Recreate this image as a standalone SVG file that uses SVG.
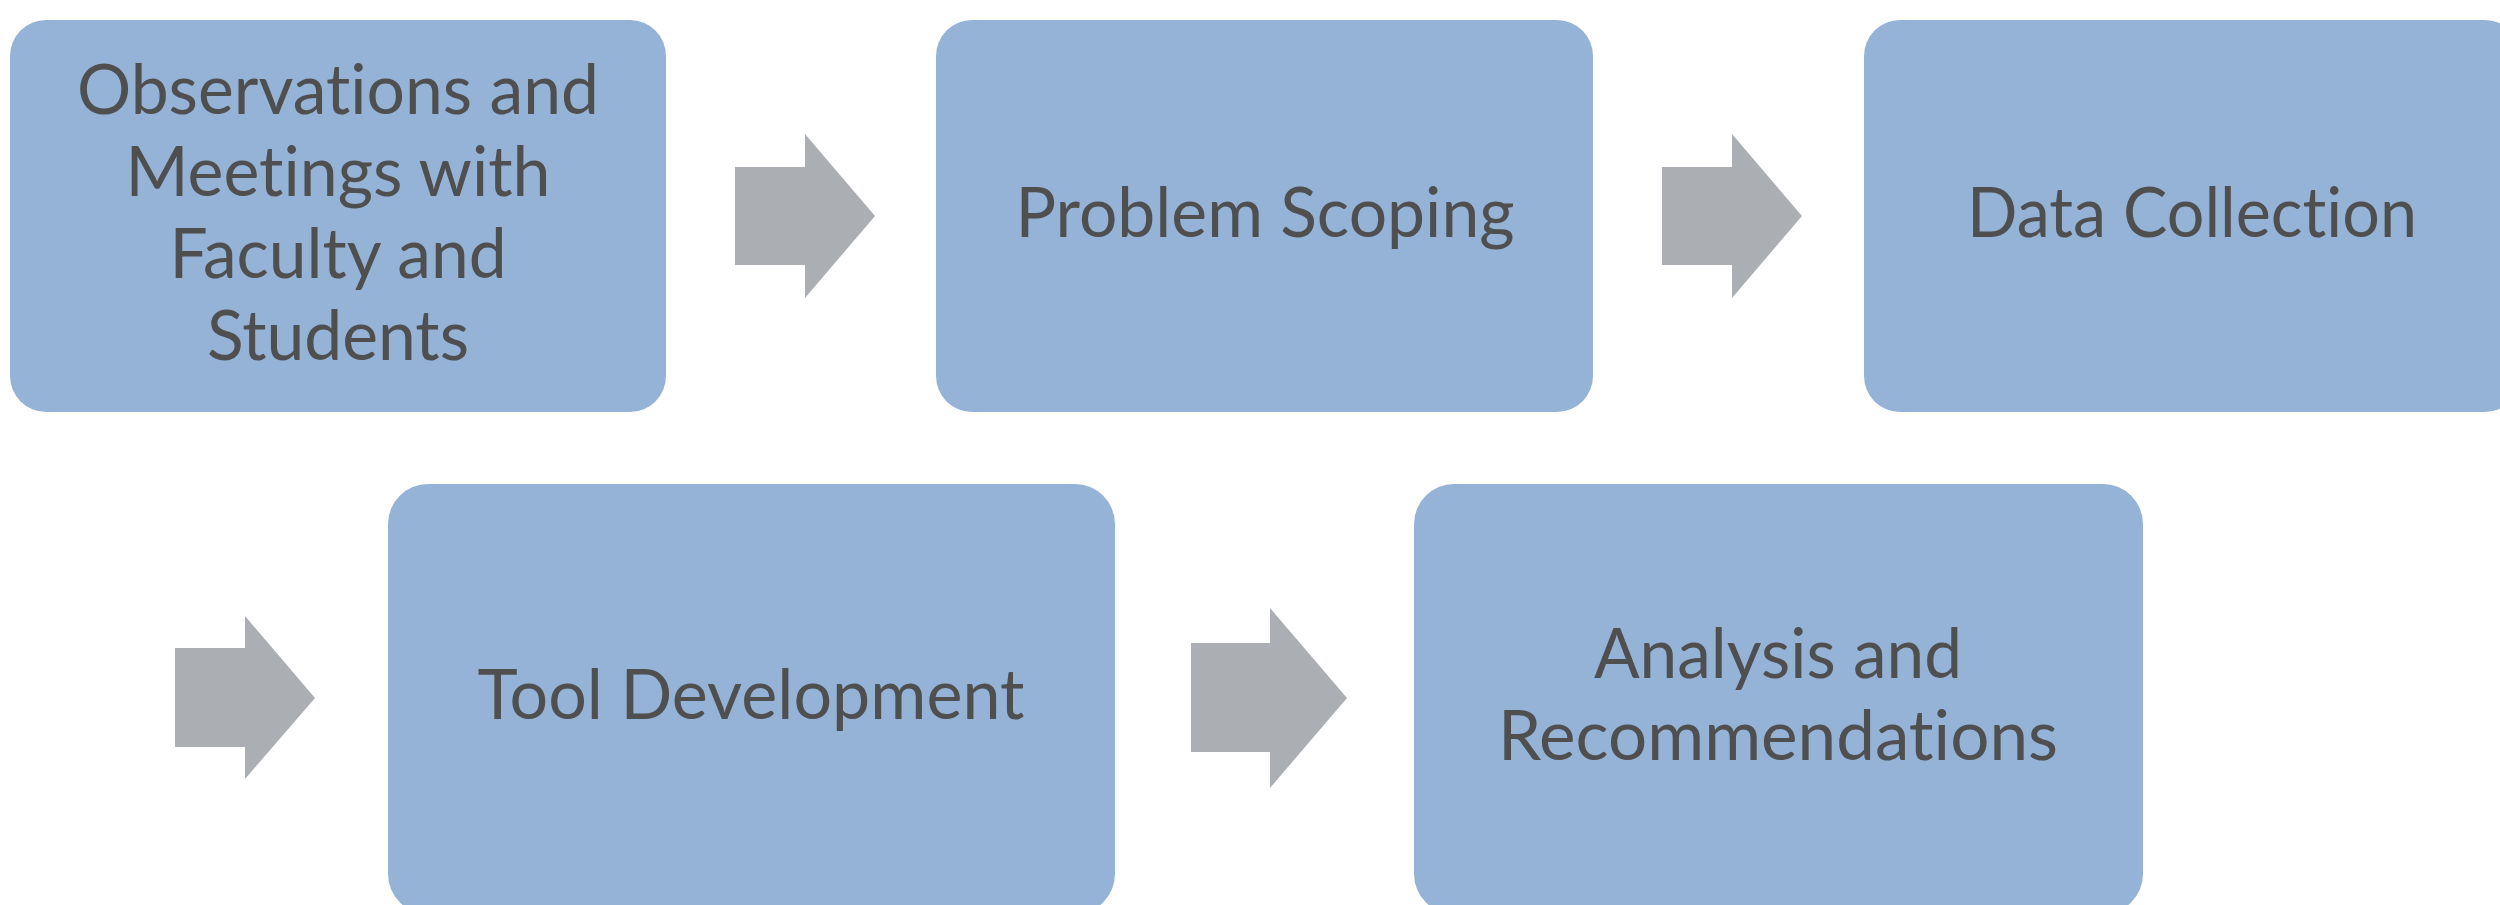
<svg xmlns="http://www.w3.org/2000/svg" width="2500" height="905" viewBox="0 0 2500 905">
<style>
.box{fill:#95B3D7;}
.lbl{font-family:Lato,"Liberation Sans",sans-serif;font-size:69px;fill:#4F4F4F;text-anchor:middle;font-variant-ligatures:none;font-feature-settings:"liga" 0,"clig" 0;}
.arr{fill:#ABAEB2;}
</style>
<rect width="2500" height="905" fill="#FFFFFF"/>
<g id="connectors">
<polygon class="arr" points="735,167 805,167 805,134 875,216 805,298 805,265 735,265"/>
<polygon class="arr" points="1662,167 1732,167 1732,134 1802,216 1732,298 1732,265 1662,265"/>
<polygon class="arr" points="175,648 245,648 245,616 315,698 245,779 245,747 175,747"/>
<polygon class="arr" points="1191,643 1270,643 1270,608 1347,698 1270,788 1270,752 1191,752"/>
</g>
<g id="node-observations">
<rect class="box" x="10" y="20" width="656" height="392" rx="36" ry="36"/>
<text class="lbl" x="338" y="114" textLength="522" lengthAdjust="spacingAndGlyphs">Observations and</text>
<text class="lbl" x="338" y="196" textLength="425" lengthAdjust="spacingAndGlyphs">Meetings with</text>
<text class="lbl" x="338" y="278" textLength="337" lengthAdjust="spacingAndGlyphs">Faculty and</text>
<text class="lbl" x="338" y="360" textLength="262" lengthAdjust="spacingAndGlyphs">Students</text>
</g>
<g id="node-problem-scoping">
<rect class="box" x="936" y="20" width="657" height="392" rx="36" ry="36"/>
<text class="lbl" x="1265" y="237" textLength="499" lengthAdjust="spacingAndGlyphs">Problem Scoping</text>
</g>
<g id="node-data-collection">
<rect class="box" x="1864" y="20" width="657" height="392" rx="36" ry="36"/>
<text class="lbl" x="2192" y="237" textLength="450" lengthAdjust="spacingAndGlyphs">Data Collection</text>
</g>
<g id="node-tool-development">
<rect class="box" x="388" y="484" width="727" height="430" rx="40" ry="40"/>
<text class="lbl" x="751" y="719" textLength="547" lengthAdjust="spacingAndGlyphs">Tool Development</text>
</g>
<g id="node-analysis">
<rect class="box" x="1414" y="484" width="729" height="430" rx="40" ry="40"/>
<text class="lbl" x="1778" y="678" textLength="368" lengthAdjust="spacingAndGlyphs">Analysis and</text>
<text class="lbl" x="1778" y="760" textLength="560" lengthAdjust="spacingAndGlyphs">Recommendations</text>
</g>
</svg>
